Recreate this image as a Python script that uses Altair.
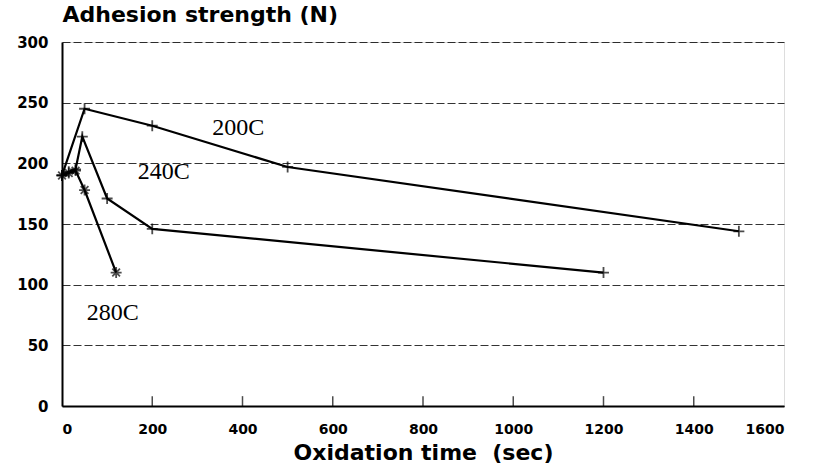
import altair as alt
import pandas as pd

# Data
t200 = [0, 50, 200, 500, 1500]
s200 = [190, 245, 231, 197, 144]
t240 = [0, 15, 30, 45, 100, 200, 1200]
s240 = [190, 193, 195, 222, 171, 146, 110]
t280 = [0, 15, 30, 50, 120]
s280 = [190, 192, 194, 178, 110]

label_text = ["200C", "240C", "280C"]
label_x = [333, 168, 55]
label_y = [229, 193, 77]

rows = []
for name, ts, ss in [("200C", t200, s200), ("240C", t240, s240), ("280C", t280, s280)]:
    for i, (t, s) in enumerate(zip(ts, ss)):
        rows.append({"series": name, "t": t, "s": s, "order": i})
df = pd.DataFrame(rows)
labels = pd.DataFrame({"text": label_text, "t": label_x, "s": label_y})
ticks = pd.DataFrame({"t": [200, 400, 600, 800, 1000, 1200, 1400]})

FONT = "DejaVu Sans"

xs = alt.Scale(domain=[0, 1600], nice=False, zero=False)
ys = alt.Scale(domain=[0, 300], nice=False)

xaxis = alt.Axis(values=[0, 200, 400, 600, 800, 1000, 1200, 1400, 1600], format="d",
                 title="Oxidation time\u00a0\u00a0(sec)",
                 grid=False, ticks=False, labelFont=FONT, labelFontWeight="bold", labelFontSize=14,
                 labelColor="black", domainColor="black", domainWidth=2, labelPadding=16,
                 titleFont=FONT, titleFontWeight="bold", titleFontSize=22, titleColor="black",
                 titlePadding=6)
yaxis = alt.Axis(values=[0, 50, 100, 150, 200, 250, 300], format="d", title="Adhesion strength (N)",
                 grid=True, gridDash=[8, 3], gridColor="black", gridWidth=1, gridOpacity=0.8,
                 ticks=False, labelFont=FONT, labelFontWeight="bold", labelFontSize=15,
                 labelColor="black", domainColor="black", domainWidth=2, labelPadding=14,
                 titleFont=FONT, titleFontWeight="bold", titleFontSize=22, titleColor="black",
                 titleAngle=0, titleX=0, titleY=-16, titleAlign="left", titleBaseline="bottom")

base = alt.Chart(df)
lines = base.mark_line(color="black", strokeWidth=2.2).encode(
    x=alt.X("t:Q", scale=xs, axis=xaxis),
    y=alt.Y("s:Q", scale=ys, axis=yaxis),
    detail="series:N",
    order="order:Q",
)
plus = "M-1,0L1,0M0,-1L0,1"
star = "M-1,0L1,0M0,-1L0,1M-0.7,-0.7L0.7,0.7M-0.7,0.7L0.7,-0.7"
pts = alt.Chart(df).mark_point(filled=False, color="black", strokeWidth=1.8, size=120).encode(
    x=alt.X("t:Q", scale=xs),
    y=alt.Y("s:Q", scale=ys),
    shape=alt.Shape("series:N", scale=alt.Scale(domain=["200C", "240C", "280C"],
                                                 range=[plus, plus, star]), legend=None),
)
txt = alt.Chart(labels).mark_text(font="Liberation Serif", fontSize=24, color="black",
                                  align="left", baseline="middle").encode(
    x=alt.X("t:Q", scale=xs), y=alt.Y("s:Q", scale=ys), text="text:N")
tk = alt.Chart(ticks).mark_tick(color="black", thickness=1.5, size=10, orient="vertical").encode(
    x=alt.X("t:Q", scale=xs), y=alt.datum(4, scale=ys))

chart = alt.layer(lines, pts, txt, tk).properties(
    width=722, height=364,
    autosize=alt.AutoSizeParams(type="none"),
    padding={"left": 62, "top": 42, "right": 33, "bottom": 64},
).configure_view(stroke="black", strokeWidth=2).configure(background="white")

chart.save("out.html", embed_options={"renderer": "svg", "actions": False})
